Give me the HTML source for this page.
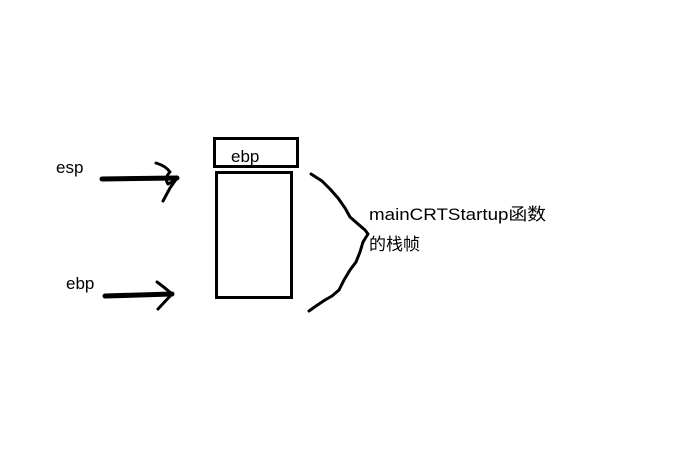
<!DOCTYPE html>
<html><head><meta charset="utf-8"><style>
html,body{margin:0;padding:0;background:#fff;}
svg{display:block;}
text{font-family:"Liberation Sans","Noto Sans CJK SC",sans-serif;fill:#000;}
</style></head><body>
<svg width="683" height="460" viewBox="0 0 683 460" xmlns="http://www.w3.org/2000/svg">
<rect x="0" y="0" width="683" height="460" fill="#fff"/>
<rect x="214.5" y="138.5" width="83" height="28" fill="none" stroke="#000" stroke-width="3"/>
<rect x="216.5" y="172.5" width="75" height="125" fill="none" stroke="#000" stroke-width="3"/>
<g fill="none" stroke="#000" stroke-linecap="round" stroke-linejoin="round">
<path d="M102 179 L177 178" stroke-width="5"/>
<path d="M156 163 Q166 166 170 172 Q164 178 168 184 Q175 181 177 177" stroke-width="3"/>
<path d="M177 178 L170 188 L163 201" stroke-width="3"/>
<path d="M105 296 L172 294" stroke-width="5"/>
<path d="M157 282 Q164 287 172 294 L158 309" stroke-width="3"/>
<polyline points="311,174 322,181 330,189 338,198 345,208 350,217 358,224 365,230 368,234 363,242 360,252 356,262 350,270 344,280 339,290 332,296 325,300 316,306 309,311" stroke-width="3"/>
</g>
<text x="56" y="173" font-size="17">esp</text>
<text x="66" y="289" font-size="17">ebp</text>
<text x="231" y="162" font-size="17">ebp</text>
<text x="369" y="220" font-size="17" textLength="177" lengthAdjust="spacingAndGlyphs">mainCRTStartup函数</text>
<text x="369" y="250" font-size="17">的栈帧</text>
</svg>
</body></html>
